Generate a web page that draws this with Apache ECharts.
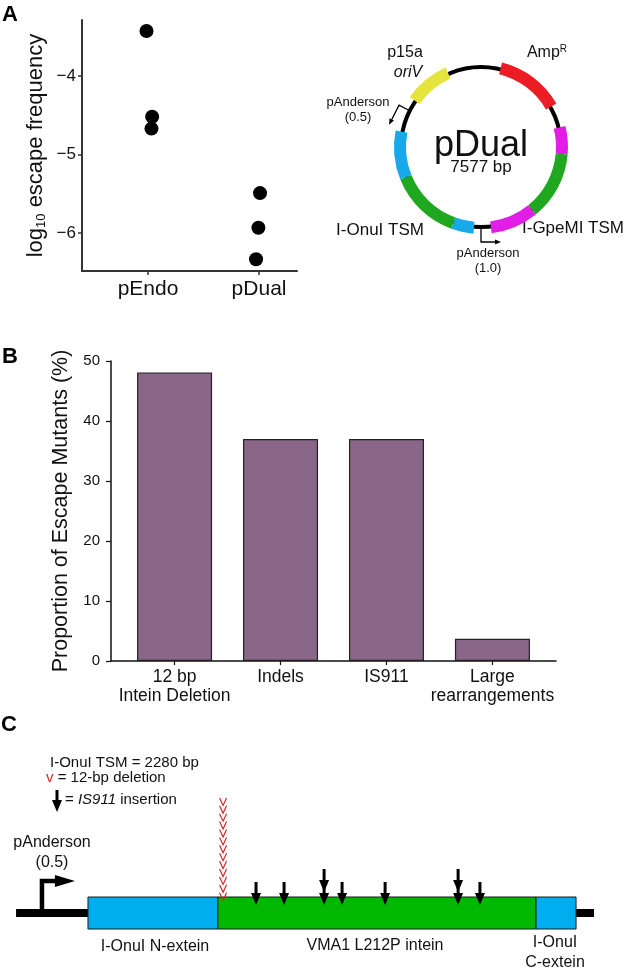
<!DOCTYPE html>
<html>
<head>
<meta charset="utf-8">
<script src="https://cdn.jsdelivr.net/npm/echarts@6/dist/echarts.min.js"></script>
<style>
html, body { margin: 0; padding: 0; background: #fff; }
#main { width: 630px; height: 974px; }
</style>
</head>
<body>
<div id="main"></div>
<script>
// panel A - escape frequency per construct
var groups = ['pEndo', 'pDual'];
var endoX = [0.986, 1.037, 1.031];
var endoY = [-3.43, -4.52, -4.67];
var dualX = [2.009, 1.994, 1.973];
var dualY = [-5.49, -5.93, -6.33];
var freqTicks = [-4, -5, -6];

// plasmid map, degrees clockwise from top
var segNames = ['AmpR', 'I-GpeMI extein a', 'VMA1 intein (GpeMI)', 'I-GpeMI extein b',
                'I-OnuI C-extein', 'VMA1 intein (OnuI)', 'I-OnuI N-extein', 'p15a oriV'];
var segStart = [14, 76, 95, 141, 185, 200, 248, 305];
var segEnd   = [60, 95, 141, 173, 200, 248, 281, 336];
var segColors = ['#ec1c24', '#e21ee6', '#1fa81f', '#e21ee6', '#17a9ea', '#1fa81f', '#17a9ea', '#e4e43c'];
var promoterAngles = [297, 180];

// panel B - escape mutant classes
var mutClasses = ['12 bp\nIntein Deletion', 'Indels', 'IS911', 'Large\nrearrangements'];
var mutPct = [48.1, 37.0, 37.0, 3.7];

// panel C - I-OnuI TSM map (bp)
var partNames = ['I-OnuI N-extein', 'VMA1 L212P intein', 'I-OnuI C-extein'];
var partStart = [0, 607, 2093];
var partEnd = [607, 2093, 2280];
var partColors = ['#00aeef', '#00b800', '#00aeef'];
var backbone = [-336, 2364];
var promoterPos = -215;
var deletionPos = 631;
var deletionCount = 13;
var insertPos = [785, 916, 1103, 1187, 1388, 1729, 1831];
var insertCount = [1, 1, 2, 1, 1, 2, 1];

var FONT = "'Liberation Sans', Arial, Helvetica, sans-serif";
var ringC = [481, 147];

var myChart = echarts.init(document.getElementById('main'));

function ringData() {
    var out = [], pos = 0;
    for (var i = 0; i < segStart.length; i++) {
        if (segStart[i] > pos) out.push({value: segStart[i] - pos, itemStyle: {color: 'rgba(0,0,0,0)'}});
        out.push({name: segNames[i], value: segEnd[i] - segStart[i], itemStyle: {color: segColors[i]}});
        pos = segEnd[i];
    }
    if (pos < 360) out.push({value: 360 - pos, itemStyle: {color: 'rgba(0,0,0,0)'}});
    return out;
}

function ringPt(deg, r) {
    var a = deg * Math.PI / 180;
    return [ringC[0] + r * Math.sin(a), ringC[1] - r * Math.cos(a)];
}

// bent promoter arrow on the ring, pointing counter-clockwise
function ringPromoter(deg, rOut, len) {
    var a = deg * Math.PI / 180;
    var p0 = ringPt(deg, 81), p1 = ringPt(deg, rOut);
    var d = [-Math.cos(a), -Math.sin(a)];
    var tip = [p1[0] + d[0] * len, p1[1] + d[1] * len];
    var base = [tip[0] - d[0] * 6, tip[1] - d[1] * 6];
    var n = [-d[1], d[0]];
    return [
        {type: 'polyline', shape: {points: [p0, p1, base]}, style: {stroke: '#000', lineWidth: 1.3, fill: null}},
        {type: 'polygon', shape: {points: [tip, [base[0] + n[0] * 2.5, base[1] + n[1] * 2.5], [base[0] - n[0] * 2.5, base[1] - n[1] * 2.5]]},
         style: {fill: '#000'}}
    ];
}

function downArrow(x, tipY, len) {
    return [[x - 1.5, tipY - len], [x + 1.5, tipY - len], [x + 1.5, tipY - 12], [x + 5, tipY - 12],
            [x, tipY], [x - 5, tipY - 12], [x - 1.5, tipY - 12]];
}

function txt(x, y, s, size, extra) {
    var st = {text: s, x: x, y: y, fontSize: size, fontFamily: FONT, fill: '#111', align: 'center', verticalAlign: 'middle'};
    for (var k in extra) st[k] = extra[k];
    return {type: 'text', style: st, silent: true};
}

var graphics = [
    txt(2, 15, 'A', 22, {fontWeight: 'bold', align: 'left', fill: '#000'}),
    txt(2, 357, 'B', 22, {fontWeight: 'bold', align: 'left', fill: '#000'}),
    txt(1, 725, 'C', 22, {fontWeight: 'bold', align: 'left', fill: '#000'}),
    // plasmid labels
    txt(405, 53, 'p15a', 16),
    txt(408, 73, 'oriV', 16, {fontStyle: 'italic'}),
    txt(547, 53, 'Amp{s|R}', 16, {rich: {s: {fontSize: 10, verticalAlign: 'top', padding: [0, 0, 8, 0], fontFamily: FONT}}}),
    txt(358, 102, 'pAnderson', 13),
    txt(358, 117, '(0.5)', 13),
    txt(481, 146, 'pDual', 36),
    txt(481, 167, '7577 bp', 17),
    txt(380, 230, 'I-OnuI TSM', 17),
    txt(573, 228, 'I-GpeMI TSM', 17),
    txt(488, 253, 'pAnderson', 13),
    txt(488, 268, '(1.0)', 13),
    // panel C legend and labels
    txt(50, 763, 'I-OnuI TSM = 2280 bp', 15, {align: 'left'}),
    txt(46, 778, '{r|v} = 12-bp deletion', 15, {align: 'left', rich: {r: {fill: '#d42a2a', fontSize: 15, fontFamily: FONT}}}),
    txt(65, 800, '= {i|IS911} insertion', 15, {align: 'left', rich: {i: {fontStyle: 'italic', fontSize: 15, fontFamily: FONT}}}),
    {type: 'polygon', shape: {points: downArrow(57, 812, 22)}, style: {fill: '#000'}},
    txt(52, 843, 'pAnderson', 16),
    txt(52, 863, '(0.5)', 16),
    txt(155, 947, partNames[0], 16),
    txt(375, 946, partNames[1], 16),
    txt(555, 943, 'I-OnuI', 16),
    txt(555, 963, 'C-extein', 16)
];
promoterAngles.forEach(function (deg, i) {
    graphics = graphics.concat(i === 0 ? ringPromoter(deg, 92, 22) : ringPromoter(deg, 95, 20));
});

var option = {
    animation: false,
    textStyle: {fontFamily: FONT},
    grid: [
        {left: 82, top: 20, width: 215, height: 251},
        {left: 111, top: 361, width: 445, height: 300},
        {left: 0, top: 785, width: 630, height: 160}
    ],
    xAxis: [
        {
            gridIndex: 0, type: 'value', min: 0.405, max: 2.342,
            splitLine: {show: false},
            axisLine: {show: true, onZero: false, lineStyle: {color: '#333', width: 2}},
            axisTick: {show: true, customValues: [1, 2], length: 4, lineStyle: {color: '#333', width: 1.5}},
            axisLabel: {customValues: [1, 2], formatter: function (v) { return groups[Math.round(v) - 1]; },
                        fontSize: 21, color: '#111', margin: 8}
        },
        {
            gridIndex: 1, type: 'value', min: 0.4, max: 4.6,
            splitLine: {show: false},
            axisLine: {show: true, onZero: false, lineStyle: {color: '#111', width: 1.5}},
            axisTick: {show: true, customValues: [1, 2, 3, 4], length: 4, lineStyle: {color: '#111', width: 1.2}},
            axisLabel: {customValues: [1, 2, 3, 4], formatter: function (v) { return mutClasses[Math.round(v) - 1]; },
                        fontSize: 17.5, lineHeight: 19, color: '#111', margin: 7}
        },
        {gridIndex: 2, type: 'value', min: -411, max: 2532, show: false}
    ],
    yAxis: [
        {
            gridIndex: 0, type: 'value', min: -6.48, max: -3.29,
            splitLine: {show: false},
            axisLine: {show: true, onZero: false, lineStyle: {color: '#333', width: 2}},
            axisTick: {show: true, customValues: freqTicks, length: 4, lineStyle: {color: '#333', width: 1.5}},
            axisLabel: {customValues: freqTicks, formatter: function (v) { return String(v).replace('-', '\u2212'); },
                        fontSize: 17, color: '#111', margin: 6},
            name: 'log{s|10} escape frequency', nameLocation: 'middle', nameRotate: 90, nameGap: 34,
            nameTextStyle: {fontSize: 22, color: '#111', rich: {s: {fontSize: 13, padding: [11, 0, 0, 0]}}}
        },
        {
            gridIndex: 1, type: 'value', min: 0, max: 50, interval: 10,
            splitLine: {show: false},
            axisLine: {show: true, onZero: false, lineStyle: {color: '#111', width: 1.5}},
            axisTick: {show: true, length: 5, lineStyle: {color: '#111', width: 1.2}},
            axisLabel: {fontSize: 15, color: '#111', margin: 11},
            name: 'Proportion of Escape Mutants (%)', nameLocation: 'middle', nameRotate: 90, nameGap: 33,
            nameTextStyle: {fontSize: 21.5, color: '#111'}
        },
        {gridIndex: 2, type: 'value', min: -2, max: 8, show: false}
    ],
    series: [
        {
            type: 'scatter', xAxisIndex: 0, yAxisIndex: 0, symbolSize: 14,
            itemStyle: {color: '#000', opacity: 1}, silent: true,
            data: endoX.map(function (x, i) { return [x, endoY[i]]; })
                .concat(dualX.map(function (x, i) { return [x, dualY[i]]; }))
        },
        {
            type: 'pie', center: ringC, radius: [78, 82], startAngle: 90, silent: true,
            label: {show: false}, labelLine: {show: false},
            data: [{value: 1, itemStyle: {color: '#000'}}]
        },
        {
            type: 'pie', center: ringC, radius: [75, 87], startAngle: 90, clockwise: true, silent: true,
            label: {show: false}, labelLine: {show: false}, z: 3,
            data: ringData()
        },
        {
            type: 'bar', xAxisIndex: 1, yAxisIndex: 1, barWidth: 75, silent: true,
            itemStyle: {color: '#8a6689', borderColor: '#222', borderWidth: 1.2},
            data: mutPct.map(function (v, i) { return [i + 1, v]; })
        },
        {
            // backbone with promoter
            type: 'custom', xAxisIndex: 2, yAxisIndex: 2, silent: true, z: 1,
            data: [[backbone[0], backbone[1], promoterPos]],
            renderItem: function (params, api) {
                var a = api.coord([api.value(0), 0]), b = api.coord([api.value(1), 0]);
                var p = api.coord([api.value(2), 0]);
                var top = p[1] - 32;
                return {type: 'group', children: [
                    {type: 'rect', shape: {x: a[0], y: a[1] - 4, width: b[0] - a[0], height: 8}, style: {fill: '#000'}},
                    {type: 'polyline', shape: {points: [[p[0], p[1]], [p[0], top], [p[0] + 16, top]]},
                     style: {stroke: '#000', lineWidth: 4.5, fill: null}},
                    {type: 'polygon', shape: {points: [[p[0] + 13, top - 6], [p[0] + 33, top], [p[0] + 13, top + 6]]},
                     style: {fill: '#000'}}
                ]};
            }
        },
        {
            type: 'custom', xAxisIndex: 2, yAxisIndex: 2, silent: true, z: 2,
            data: partStart.map(function (s, i) { return [s, partEnd[i], i]; }),
            renderItem: function (params, api) {
                var p0 = api.coord([api.value(0), 1]), p1 = api.coord([api.value(1), -1]);
                return {type: 'rect', shape: {x: p0[0], y: p0[1], width: p1[0] - p0[0], height: p1[1] - p0[1]},
                        style: {fill: partColors[api.value(2)], stroke: '#1a1a1a', lineWidth: 1}};
            }
        },
        {
            type: 'custom', xAxisIndex: 2, yAxisIndex: 2, silent: true, z: 4,
            data: [[deletionPos, deletionCount]],
            renderItem: function (params, api) {
                var p = api.coord([api.value(0), 0.8]);
                var kids = [];
                for (var k = 0; k < api.value(1); k++) {
                    var ty = p[1] - k * 7.9;
                    kids.push({type: 'polyline', shape: {points: [[p[0] - 3.5, ty - 7.5], [p[0], ty], [p[0] + 3.5, ty - 7.5]]},
                               style: {stroke: '#d42a2a', lineWidth: 1.2, fill: null}});
                }
                return {type: 'group', children: kids};
            }
        },
        {
            type: 'custom', xAxisIndex: 2, yAxisIndex: 2, silent: true, z: 4,
            data: insertPos.map(function (x, i) { return [x, insertCount[i]]; }),
            renderItem: function (params, api) {
                var p = api.coord([api.value(0), 0.5]);
                var kids = [];
                for (var k = 0; k < api.value(1); k++) {
                    kids.push({type: 'polygon', shape: {points: downArrow(p[0], p[1] - k * 13, 23)}, style: {fill: '#000'}});
                }
                return {type: 'group', children: kids};
            }
        }
    ],
    graphic: graphics
};

option && myChart.setOption(option);
</script>
</body>
</html>
